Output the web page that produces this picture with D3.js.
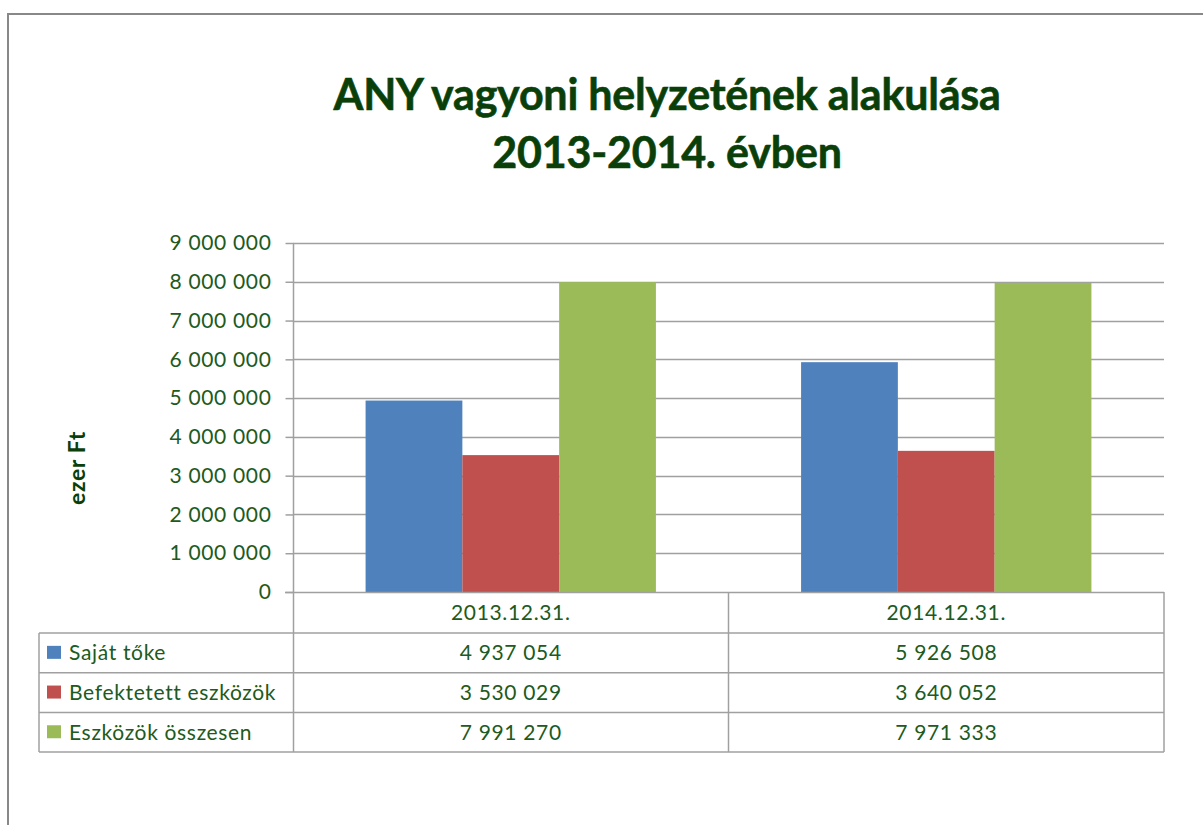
<!DOCTYPE html>
<html>
<head>
<meta charset="utf-8">
<script src="https://cdn.jsdelivr.net/npm/d3@7"></script>
<style>
  html, body { margin: 0; padding: 0; background: #ffffff; }
  svg { display: block; }
</style>
</head>
<body>
<svg id="chart" width="1203" height="825"></svg>
<script>
// ---- data ----
const titleLines = ["ANY vagyoni helyzetének alakulása", "2013-2014. évben"];
const yAxisTitle = "ezer Ft";
const categories = ["2013.12.31.", "2014.12.31."];
const seriesNames = ["Saját tőke", "Befektetett eszközök", "Eszközök összesen"];
const sajatToke = [4937054, 5926508];
const befektetett = [3530029, 3640052];
const eszkozokOsszesen = [7991270, 7971333];
const seriesValues = [sajatToke, befektetett, eszkozokOsszesen];
const seriesColors = ["#4F81BD", "#C0504D", "#9BBB59"];
const yTicks = [0, 1000000, 2000000, 3000000, 4000000, 5000000, 6000000, 7000000, 8000000, 9000000];

// ---- layout ----
const W = 1203, H = 825;
const plot = { left: 293, right: 1164, top: 243, bottom: 592 };
const table = { left: 39, headerBottom: 633, rowH: 39.7 };
const FONT = "Lato, 'Open Sans', sans-serif";
const textColor = "#205a20";
const titleColor = "#0a3f0a";
const gridColor = "#a0a0a0";

const svg = d3.select("#chart");
const fmt = v => d3.format(",")(v).replace(/,/g, " ");

function spacingFor(sample, size, weight, target) {
  const t = svg.append("text").attr("font-family", FONT).attr("font-size", size)
    .attr("font-weight", weight).text(sample);
  const w = t.node().getComputedTextLength();
  t.remove();
  return (target - w) / sample.length;
}

// outer frame
svg.append("rect").attr("x", 8).attr("y", 14).attr("width", W).attr("height", H)
  .attr("fill", "none").attr("stroke", "#888888").attr("stroke-width", 2);

// title
const titleSize = 43;
const titleLS = spacingFor(titleLines[0], titleSize, "bold", 667);
svg.append("g").selectAll("text").data(titleLines).join("text")
  .attr("x", 667).attr("y", (d, i) => 110 + i * 58)
  .attr("text-anchor", "middle")
  .attr("font-family", FONT).attr("font-size", titleSize).attr("font-weight", "bold")
  .attr("letter-spacing", titleLS)
  .attr("stroke", titleColor).attr("stroke-width", 0.6)
  .attr("fill", titleColor).text(d => d);

// scales
const x0 = d3.scaleBand().domain(categories).range([plot.left, plot.right]).paddingInner(0).paddingOuter(0);
const x1 = d3.scaleBand().domain(seriesNames).range([0, x0.bandwidth()]).paddingInner(0).paddingOuter(0.75);
const y = d3.scaleLinear().domain([0, 9000000]).range([plot.bottom, plot.top]);

const bodySize = 21;
const bodyLS = spacingFor("5 000 000", bodySize, "normal", 102);

// gridlines
svg.append("g").selectAll("line").data(yTicks.filter(d => d > 0)).join("line")
  .attr("x1", plot.left).attr("x2", plot.right)
  .attr("y1", d => Math.round(y(d)) + 0.5).attr("y2", d => Math.round(y(d)) + 0.5)
  .attr("stroke", gridColor).attr("stroke-width", 1.5);

// bars
const barG = svg.append("g");
seriesNames.forEach((s, si) => {
  barG.append("g").selectAll("rect").data(categories).join("rect")
    .attr("x", c => x0(c) + x1(s))
    .attr("width", x1.bandwidth())
    .attr("y", (c, ci) => y(seriesValues[si][ci]))
    .attr("height", (c, ci) => y(0) - y(seriesValues[si][ci]))
    .attr("fill", seriesColors[si]);
});

// y axis
const yAxis = d3.axisLeft(y).tickValues(yTicks).tickSize(8).tickPadding(14).tickFormat(fmt);
const yg = svg.append("g").attr("transform", `translate(${plot.left + 0.5},0)`).call(yAxis);
yg.select(".domain").attr("stroke", gridColor).attr("stroke-width", 1.5).attr("d", `M0,${plot.top}V${plot.bottom}`);
yg.selectAll(".tick line").attr("stroke", gridColor).attr("stroke-width", 1.5);
yg.selectAll(".tick text").attr("font-family", FONT).attr("font-size", bodySize)
  .attr("letter-spacing", bodyLS).attr("fill", textColor);

// y axis title
svg.append("text")
  .attr("transform", "translate(85,468) rotate(-90)")
  .attr("text-anchor", "middle")
  .attr("font-family", FONT).attr("font-size", 23).attr("font-weight", "bold")
  .attr("letter-spacing", 0.6)
  .attr("fill", titleColor).text(yAxisTitle);

// data table
const tg = svg.append("g");
const tableBottom = table.headerBottom + table.rowH * seriesNames.length;
const lineStyle = sel => sel.attr("stroke", gridColor).attr("stroke-width", 1.5).attr("fill", "none");

// zero line (top of header row)
tg.append("line").attr("x1", plot.left - 8).attr("x2", plot.right)
  .attr("y1", plot.bottom + 0.5).attr("y2", plot.bottom + 0.5).call(lineStyle);
// horizontal row lines
tg.selectAll("line.row").data(d3.range(seriesNames.length + 1)).join("line").attr("class", "row")
  .attr("x1", table.left).attr("x2", plot.right)
  .attr("y1", i => table.headerBottom + i * table.rowH).attr("y2", i => table.headerBottom + i * table.rowH)
  .call(lineStyle);
// vertical lines
tg.append("line").attr("x1", table.left).attr("x2", table.left)
  .attr("y1", table.headerBottom).attr("y2", tableBottom).call(lineStyle);
const vx = [plot.left + 0.5, ...categories.map(c => x0(c) + x0.bandwidth())];
tg.selectAll("line.col").data(vx).join("line").attr("class", "col")
  .attr("x1", d => d).attr("x2", d => d)
  .attr("y1", plot.bottom).attr("y2", tableBottom).call(lineStyle);

// header labels
tg.selectAll("text.cat").data(categories).join("text").attr("class", "cat")
  .attr("x", c => x0(c) + x0.bandwidth() / 2)
  .attr("y", (plot.bottom + table.headerBottom) / 2).attr("dy", "0.36em")
  .attr("text-anchor", "middle")
  .attr("font-family", FONT).attr("font-size", bodySize).attr("letter-spacing", bodyLS)
  .attr("fill", textColor).text(c => c);

// rows
seriesNames.forEach((s, si) => {
  const cy = table.headerBottom + table.rowH * (si + 0.5);
  tg.append("rect").attr("x", 47).attr("y", cy - 7).attr("width", 14).attr("height", 13)
    .attr("fill", seriesColors[si]);
  tg.append("text").attr("x", 69).attr("y", cy).attr("dy", "0.36em")
    .attr("font-family", FONT).attr("font-size", bodySize).attr("letter-spacing", bodyLS)
    .attr("fill", textColor).text(s);
  tg.selectAll(null).data(categories).join("text")
    .attr("x", c => x0(c) + x0.bandwidth() / 2)
    .attr("y", cy).attr("dy", "0.36em").attr("text-anchor", "middle")
    .attr("font-family", FONT).attr("font-size", bodySize).attr("letter-spacing", bodyLS)
    .attr("fill", textColor).text((c, ci) => fmt(seriesValues[si][ci]));
});
</script>
</body>
</html>
